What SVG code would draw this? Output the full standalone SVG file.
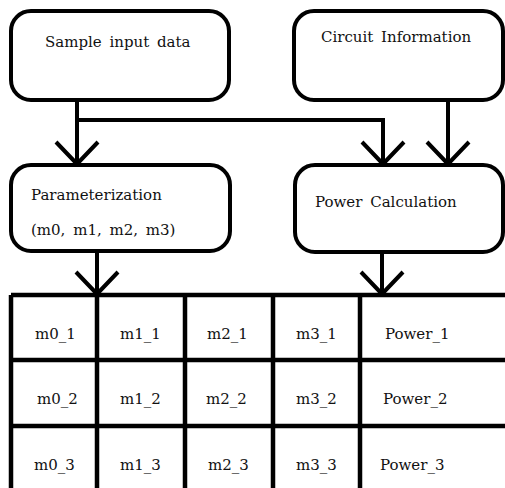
<svg xmlns="http://www.w3.org/2000/svg" width="505" height="488" viewBox="0 0 505 488">
<style>
.box{fill:#fff;stroke:#000;stroke-width:4}
.ln{fill:none;stroke:#000;stroke-width:4}
.tl{fill:none;stroke:#000;stroke-width:4.5}
text{font-family:"DejaVu Serif","Liberation Serif",serif;font-size:15px;fill:#111;word-spacing:3px}
</style>
<defs>
<marker id="arr" markerUnits="userSpaceOnUse" viewBox="-24 -24 48 48" markerWidth="48" markerHeight="48" refX="0" refY="0" orient="auto" overflow="visible">
<path d="M-22,-21 L0,0 L-22,21" fill="none" stroke="#000" stroke-width="4"/>
</marker>
</defs>
<rect x="0" y="0" width="505" height="488" fill="#fff"/>
<g id="sample"><rect class="box" x="11" y="11" width="218" height="89" rx="20"/><text x="45" y="47">Sample input data</text></g>
<g id="circuit"><rect class="box" x="294" y="11" width="209" height="89" rx="20"/><text x="321" y="42">Circuit Information</text></g>
<g id="param"><rect class="box" x="11" y="165" width="219" height="86" rx="20"/><text x="31" y="200">Parameterization</text><text x="31" y="235">(m0, m1, m2, m3)</text></g>
<g id="power"><rect class="box" x="295" y="165" width="208" height="87" rx="20"/><text x="315" y="207">Power Calculation</text></g>
<g id="connectors">
<path class="ln" d="M77,100 V164" marker-end="url(#arr)"/>
<path class="ln" d="M77,120 H383 V164" marker-end="url(#arr)"/>
<path class="ln" d="M448,100 V164" marker-end="url(#arr)"/>
<path class="ln" d="M97,251 V294" marker-end="url(#arr)"/>
<path class="ln" d="M382,252 V294" marker-end="url(#arr)"/>
</g>
<g id="table">
<path class="tl" d="M11,295 H510 M11,295 V495 M97,295 V495 M185,295 V495 M273,295 V495 M360,295 V495 M11,360 H510 M11,426 H510"/>
<text x="35" y="339">m0_1</text><text x="120" y="339">m1_1</text><text x="207" y="339">m2_1</text><text x="296" y="339">m3_1</text><text x="385" y="339">Power_1</text>
<text x="37" y="404">m0_2</text><text x="120" y="404">m1_2</text><text x="206" y="404">m2_2</text><text x="296" y="404">m3_2</text><text x="383" y="404">Power_2</text>
<text x="34" y="470">m0_3</text><text x="120" y="470">m1_3</text><text x="208" y="470">m2_3</text><text x="296" y="470">m3_3</text><text x="380" y="470">Power_3</text>
</g>
</svg>
